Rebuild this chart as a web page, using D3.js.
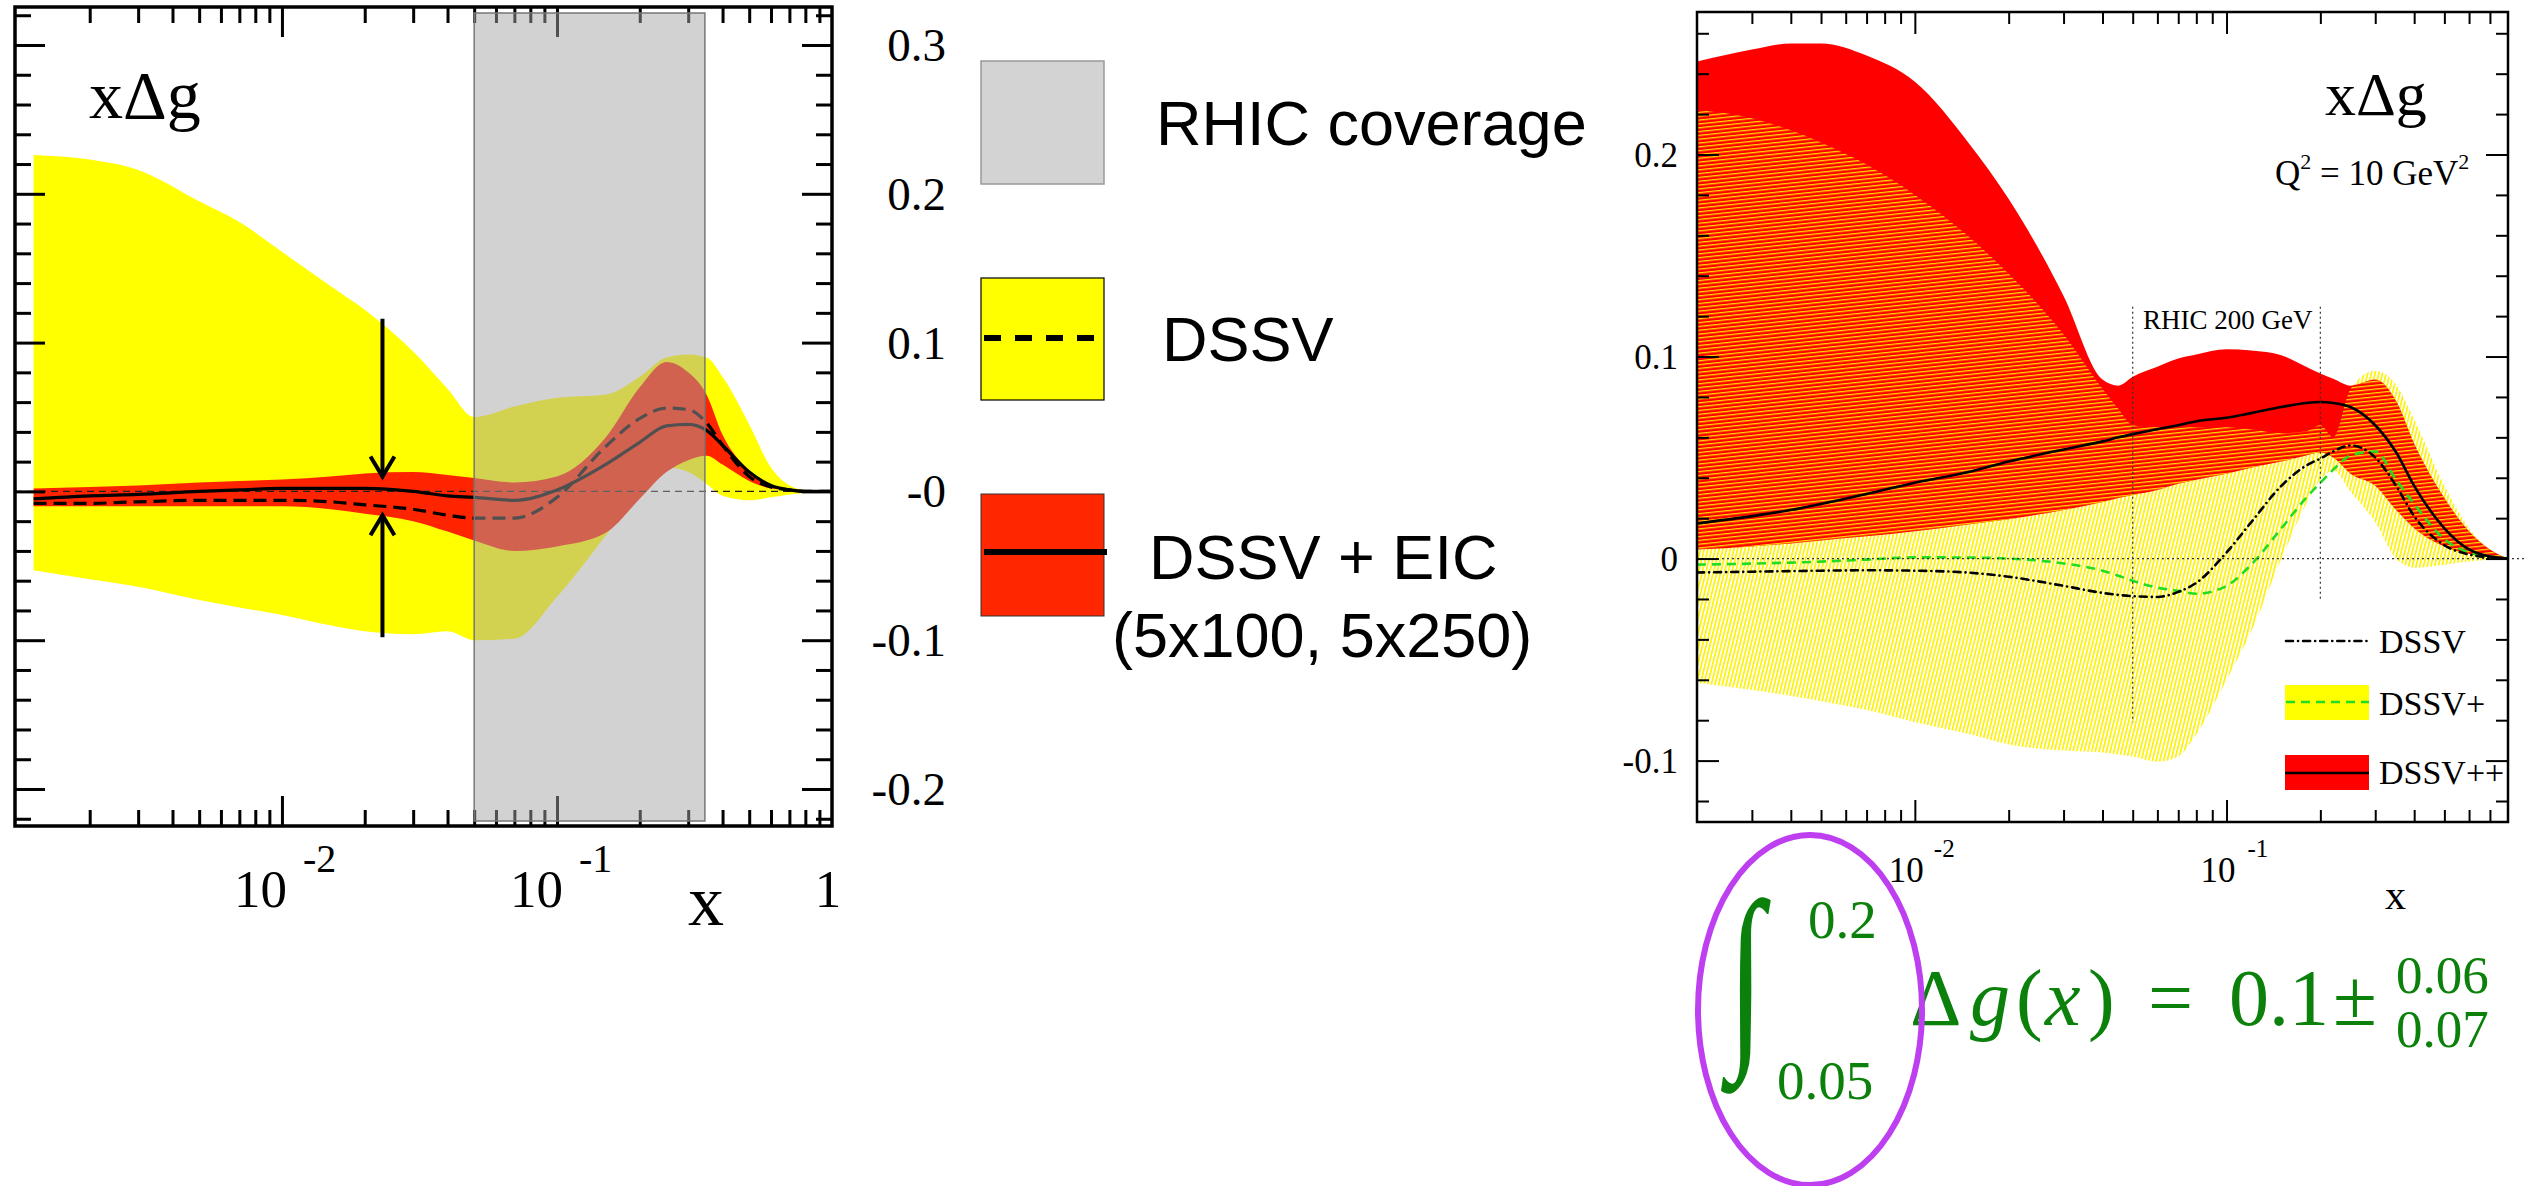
<!DOCTYPE html>
<html>
<head>
<meta charset="utf-8">
<script src="https://cdn.jsdelivr.net/npm/d3@7"></script>
<style>
  body { margin: 0; background: #fff; }
  svg { display: block; }
</style>
</head>
<body>
<svg id="fig" width="2531" height="1186"></svg>
<script>
// ---------------- left panel: xΔg, DSSV vs DSSV + EIC ----------------
const eicX   = [0.00125, 0.002, 0.003, 0.005, 0.007, 0.01, 0.015, 0.02, 0.03, 0.04, 0.05, 0.07, 0.1, 0.15, 0.2, 0.25, 0.3, 0.35, 0.4, 0.5, 0.6, 0.7, 0.8, 1.0];
const dssvHi = [0.226, 0.223, 0.216, 0.195, 0.181, 0.161, 0.138, 0.122, 0.094, 0.069, 0.050, 0.057, 0.063, 0.065, 0.077, 0.090, 0.092, 0.090, 0.077, 0.045, 0.016, 0.004, 0.001, 0];
const dssvLo = [-0.053, -0.059, -0.064, -0.073, -0.078, -0.083, -0.090, -0.094, -0.096, -0.094, -0.100, -0.099, -0.071, -0.030, 0.000, 0.016, 0.013, 0.005, -0.003, -0.006, -0.004, -0.002, -0.001, 0];
const eicHi  = [0.002, 0.003, 0.004, 0.006, 0.007, 0.008, 0.010, 0.012, 0.013, 0.011, 0.009, 0.006, 0.010, 0.036, 0.070, 0.087, 0.080, 0.065, 0.038, 0.014, 0.004, 0.001, 0, 0];
const eicLo  = [-0.010, -0.010, -0.010, -0.010, -0.010, -0.010, -0.012, -0.015, -0.020, -0.027, -0.033, -0.040, -0.037, -0.028, -0.005, 0.013, 0.021, 0.024, 0.018, 0.007, 0.002, 0.001, 0, 0];
const eicMid = [-0.005, -0.003, -0.002, 0.000, 0.001, 0.002, 0.002, 0.002, 0.000, -0.003, -0.004, -0.006, 0.001, 0.018, 0.033, 0.044, 0.045, 0.041, 0.031, 0.013, 0.004, 0.001, 0, 0];
const dssvMid = [-0.008, -0.008, -0.007, -0.006, -0.006, -0.006, -0.007, -0.009, -0.012, -0.016, -0.018, -0.018, -0.004, 0.030, 0.049, 0.056, 0.055, 0.046, 0.031, 0.010, 0.003, 0.001, 0, 0];

const rhicRange   = [0.05, 0.345];       // shaded RHIC coverage in x
const arrowX      = 0.0232;              // position of the uncertainty-reduction arrows
const arrowDown   = [0.116, 0.010];      // from, tip
const arrowUp     = [-0.098, -0.016];    // from, tip

const midTickVals   = [0.3, 0.2, 0.1, 0, -0.1, -0.2];
const midTickLabels = ["0.3", "0.2", "0.1", "-0", "-0.1", "-0.2"];

// ---------------- right panel: DSSV, DSSV+, DSSV++ at Q² = 10 GeV² ----------------
const rX    = [0.002, 0.003, 0.004, 0.005, 0.007, 0.01, 0.015, 0.02, 0.03, 0.04, 0.045, 0.05, 0.06, 0.07, 0.08, 0.1, 0.12, 0.15, 0.18, 0.2, 0.22, 0.25, 0.3, 0.35, 0.4, 0.5, 0.6, 0.7, 0.8];
const ppHi  = [0.246, 0.252, 0.255, 0.255, 0.249, 0.236, 0.205, 0.178, 0.130, 0.0886, 0.0856, 0.090, 0.095, 0.099, 0.101, 0.1036, 0.103, 0.1006, 0.095, 0.0916, 0.089, 0.0856, 0.0886, 0.078, 0.057, 0.030, 0.0135, 0.0045, 0];
const ppLo  = [0.0045, 0.006, 0.0075, 0.009, 0.011, 0.0135, 0.017, 0.0195, 0.024, 0.028, 0.030, 0.0315, 0.034, 0.037, 0.039, 0.042, 0.045, 0.048, 0.051, 0.0525, 0.050, 0.042, 0.036, 0.024, 0.015, 0.006, 0.0024, 0.001, 0];
const ppMid = [0.0174, 0.021, 0.024, 0.027, 0.032, 0.0375, 0.043, 0.048, 0.054, 0.058, 0.060, 0.0616, 0.064, 0.066, 0.068, 0.0697, 0.072, 0.075, 0.077, 0.0775, 0.077, 0.075, 0.066, 0.0526, 0.036, 0.015, 0.0045, 0.001, 0];
const pHi   = [0.222, 0.218, 0.212, 0.206, 0.195, 0.180, 0.159, 0.141, 0.111, 0.084, 0.074, 0.066, 0.065, 0.065, 0.065, 0.065, 0.064, 0.062, 0.063, 0.066, 0.060, 0.084, 0.093, 0.086, 0.069, 0.036, 0.015, 0.0045, 0];
const pLo   = [-0.0616, -0.065, -0.068, -0.0706, -0.075, -0.081, -0.087, -0.092, -0.095, -0.096, -0.097, -0.098, -0.1006, -0.098, -0.087, -0.060, -0.036, 0.000, 0.027, 0.039, 0.0435, 0.033, 0.018, 0.000, -0.0045, -0.003, -0.0015, -0.0006, 0];
const pMid  = [-0.003, -0.0025, -0.002, -0.0015, -0.0005, 0.0006, 0.0005, 0, -0.0024, -0.006, -0.0085, -0.011, -0.0144, -0.016, -0.0174, -0.0135, -0.003, 0.015, 0.030, 0.0375, 0.044, 0.051, 0.053, 0.039, 0.027, 0.0096, 0.003, 0.001, 0];
const dMid  = [-0.0069, -0.0065, -0.0062, -0.006, -0.0058, -0.006, -0.007, -0.009, -0.0135, -0.017, -0.018, -0.0186, -0.019, -0.0165, -0.012, 0.003, 0.018, 0.036, 0.046, 0.0495, 0.053, 0.056, 0.050, 0.036, 0.021, 0.0066, 0.002, 0.0006, 0];

const rhicLines = [0.05, 0.2];            // RHIC 200 GeV window
const rhicLineTop = 0.1246;
const rhicLineBottom = [-0.081, -0.021];

const rYTickVals   = [0.2, 0.1, 0, -0.1];
const rYTickLabels = ["0.2", "0.1", "0", "-0.1"];

// integral quoted under the right panel
const integralLimits = ["0.05", "0.2"];
const integralValue  = "0.1";
const integralErr    = ["0.06", "0.07"];

// ---------------------------------------------------------------------------
const svg = d3.select("#fig");
const SERIF = "'Liberation Serif', 'Times New Roman', serif";
const SANS  = "'Liberation Sans', Arial, sans-serif";
const defs = svg.append("defs");

function minorLog(lo, hi) {
  const out = [];
  for (let e = -4; e <= 0; e++) for (let m = 2; m <= 9; m++) {
    const v = m * Math.pow(10, e);
    if (v > lo * 1.001 && v < hi * 0.999) out.push(v);
  }
  return out;
}
function linTicks(a, b, step) {
  const out = [];
  for (let v = a; v <= b + 1e-9; v += step) out.push(+v.toFixed(4));
  return out;
}
const notTenth = v => Math.abs(Math.round(v * 10) - v * 10) > 1e-6;

// inward ticks on all four sides, drawn with d3 axes
function frameTicks(g, x, y, box, opt) {
  const add = (axisFn, scale, vals, len, tr) => {
    const a = axisFn(scale).tickValues(vals).tickSize(-len).tickSizeOuter(0).tickFormat("");
    const gg = g.append("g").attr("transform", tr).call(a);
    gg.select(".domain").remove();
    gg.selectAll(".tick text").remove();
    gg.selectAll(".tick line").attr("stroke", "#000").attr("stroke-width", opt.sw);
  };
  add(d3.axisBottom, x, opt.xMajor, opt.major, `translate(0,${box.bottom})`);
  add(d3.axisBottom, x, opt.xMinor, opt.minor, `translate(0,${box.bottom})`);
  add(d3.axisTop, x, opt.xMajor, opt.major, `translate(0,${box.top})`);
  add(d3.axisTop, x, opt.xMinor, opt.minor, `translate(0,${box.top})`);
  add(d3.axisLeft, y, opt.yMajor, opt.major, `translate(${box.left},0)`);
  add(d3.axisLeft, y, opt.yMinor, opt.minor, `translate(${box.left},0)`);
  add(d3.axisRight, y, opt.yMajor, opt.major, `translate(${box.right},0)`);
  add(d3.axisRight, y, opt.yMinor, opt.minor, `translate(${box.right},0)`);
}

// ============================ LEFT PANEL ============================
const LB = { left: 15, right: 832, top: 7, bottom: 826 };
const xL = d3.scaleLog().domain([0.00107, 1]).range([LB.left, LB.right]);
const yL = d3.scaleLinear().domain([0.3, -0.2]).range([45, 789]);

defs.append("clipPath").attr("id", "clipL").append("rect")
  .attr("x", LB.left).attr("y", LB.top).attr("width", LB.right - LB.left).attr("height", LB.bottom - LB.top);

const gL = svg.append("g");
const plotL = gL.append("g").attr("clip-path", "url(#clipL)");

const bandL = (hi, lo) => d3.area()
  .x((d, i) => xL(eicX[i])).y0((d, i) => yL(lo[i])).y1((d, i) => yL(hi[i]))
  .curve(d3.curveMonotoneX)(eicX);
const lineL = vals => d3.line()
  .x((d, i) => xL(eicX[i])).y((d, i) => yL(vals[i]))
  .curve(d3.curveMonotoneX)(eicX);

plotL.append("path").attr("d", bandL(dssvHi, dssvLo)).attr("fill", "#ffff00");
plotL.append("path").attr("d", bandL(eicHi, eicLo)).attr("fill", "#ff2400");

plotL.append("line")
  .attr("x1", LB.left).attr("x2", LB.right).attr("y1", yL(0)).attr("y2", yL(0))
  .attr("stroke", "#222").attr("stroke-width", 1.2).attr("stroke-dasharray", "7,5");

plotL.append("path").attr("d", lineL(dssvMid)).attr("fill", "none")
  .attr("stroke", "#000").attr("stroke-width", 3.2).attr("stroke-dasharray", "13,7");
plotL.append("path").attr("d", lineL(eicMid)).attr("fill", "none")
  .attr("stroke", "#000").attr("stroke-width", 3.2);

// arrows showing the reduced uncertainty
function arrow(g, x, y0, y1) {
  const dir = y1 > y0 ? 1 : -1;
  g.append("line").attr("x1", x).attr("x2", x).attr("y1", y0).attr("y2", y1)
    .attr("stroke", "#000").attr("stroke-width", 4);
  g.append("path")
    .attr("d", `M${x - 12},${y1 - dir * 20} L${x},${y1} L${x + 12},${y1 - dir * 20}`)
    .attr("fill", "none").attr("stroke", "#000").attr("stroke-width", 4);
}
arrow(gL, xL(arrowX), yL(arrowDown[0]), yL(arrowDown[1]));
arrow(gL, xL(arrowX), yL(arrowUp[0]), yL(arrowUp[1]));

frameTicks(gL, xL, yL, LB, {
  sw: 3, major: 30, minor: 16,
  xMajor: [0.01, 0.1], xMinor: minorLog(0.00107, 1),
  yMajor: midTickVals, yMinor: linTicks(-0.22, 0.32, 0.02).filter(notTenth)
});

// RHIC coverage overlay
gL.append("rect")
  .attr("x", xL(rhicRange[0])).attr("y", LB.top + 6)
  .attr("width", xL(rhicRange[1]) - xL(rhicRange[0])).attr("height", LB.bottom - LB.top - 11)
  .attr("fill", "#a4a4a4").attr("fill-opacity", 0.49)
  .attr("stroke", "#777").attr("stroke-width", 1.5);

gL.append("rect")
  .attr("x", LB.left).attr("y", LB.top).attr("width", LB.right - LB.left).attr("height", LB.bottom - LB.top)
  .attr("fill", "none").attr("stroke", "#000").attr("stroke-width", 3.5);

gL.append("text").attr("x", 89).attr("y", 118)
  .attr("font-family", SERIF).attr("font-size", 68).text("xΔg");

// x tick labels
function decadeLabel(g, xpos, base, exp, opt) {
  g.append("text").attr("x", xpos + opt.dx).attr("y", opt.base)
    .attr("text-anchor", "end").attr("font-family", SERIF).attr("font-size", opt.fs).text(base);
  g.append("text").attr("x", xpos + opt.sx).attr("y", opt.sup)
    .attr("font-family", SERIF).attr("font-size", opt.sfs).text(exp);
}
decadeLabel(gL, xL(0.01), "10", "-2", { dx: 5, sx: 21, base: 907, sup: 872, fs: 53, sfs: 40 });
decadeLabel(gL, xL(0.1), "10", "-1", { dx: 6, sx: 22, base: 907, sup: 872, fs: 53, sfs: 40 });
gL.append("text").attr("x", 828).attr("y", 907).attr("text-anchor", "middle")
  .attr("font-family", SERIF).attr("font-size", 53).text("1");
gL.append("text").attr("x", 688).attr("y", 925)
  .attr("font-family", SERIF).attr("font-size", 72).text("x");

// y labels sitting to the right of the panel
svg.append("g").selectAll("text").data(midTickVals).join("text")
  .attr("x", 946).attr("y", d => yL(d) + 16).attr("text-anchor", "end")
  .attr("font-family", SERIF).attr("font-size", 47)
  .text((d, i) => midTickLabels[i]);

// ============================ MIDDLE LEGEND ============================
const gM = svg.append("g");
gM.append("rect").attr("x", 981).attr("y", 61).attr("width", 123).attr("height", 123)
  .attr("fill", "#d3d3d3").attr("stroke", "#999").attr("stroke-width", 1.5);
gM.append("rect").attr("x", 981).attr("y", 278).attr("width", 123).attr("height", 122)
  .attr("fill", "#ffff00").attr("stroke", "#000").attr("stroke-width", 1.2);
gM.append("line").attr("x1", 984).attr("x2", 1100).attr("y1", 338).attr("y2", 338)
  .attr("stroke", "#000").attr("stroke-width", 6).attr("stroke-dasharray", "17,14");
gM.append("rect").attr("x", 981).attr("y", 494).attr("width", 123).attr("height", 122)
  .attr("fill", "#ff2600").attr("stroke", "#333").attr("stroke-width", 1);
gM.append("line").attr("x1", 984).attr("x2", 1107).attr("y1", 552).attr("y2", 552)
  .attr("stroke", "#000").attr("stroke-width", 6);

const legTxt = (x, y, t) => gM.append("text").attr("x", x).attr("y", y)
  .attr("font-family", SANS).attr("font-size", 63).text(t);
legTxt(1156, 145, "RHIC coverage");
legTxt(1162, 361, "DSSV");
legTxt(1149, 579, "DSSV + EIC");
legTxt(1112, 657, "(5x100, 5x250)");

// ============================ RIGHT PANEL ============================
const RB = { left: 1697, right: 2508, top: 12, bottom: 822 };
const xR = d3.scaleLog().domain([0.002, 0.8]).range([RB.left, RB.right]);
const yR = d3.scaleLinear().domain([0.2, -0.1]).range([154.5, 760.6]);

defs.append("clipPath").attr("id", "clipR").append("rect")
  .attr("x", RB.left).attr("y", RB.top).attr("width", RB.right - RB.left).attr("height", RB.bottom - RB.top);

// fine yellow hatching of the DSSV+ band: steep strokes on white, flat strokes on red
const hatchV = defs.append("pattern").attr("id", "hatchV")
  .attr("patternUnits", "userSpaceOnUse").attr("width", 3.6).attr("height", 8)
  .attr("patternTransform", "rotate(14)");
hatchV.append("rect").attr("x", 0).attr("y", 0).attr("width", 1.7).attr("height", 8).attr("fill", "#fff200");
const hatchH = defs.append("pattern").attr("id", "hatchH")
  .attr("patternUnits", "userSpaceOnUse").attr("width", 8).attr("height", 3.8)
  .attr("patternTransform", "rotate(-6)");
hatchH.append("rect").attr("x", 0).attr("y", 0).attr("width", 8).attr("height", 1.3).attr("fill", "#ffdd00");

const gR = svg.append("g");
const plotR = gR.append("g").attr("clip-path", "url(#clipR)");

const bandR = (hi, lo) => d3.area()
  .x((d, i) => xR(rX[i])).y0((d, i) => yR(lo[i])).y1((d, i) => yR(hi[i]))
  .curve(d3.curveMonotoneX)(rX);
const lineR = vals => d3.line()
  .x((d, i) => xR(rX[i])).y((d, i) => yR(vals[i]))
  .curve(d3.curveMonotoneX)(rX);

defs.append("clipPath").attr("id", "clipPlus").append("path").attr("d", bandR(pHi, pLo));

plotR.append("path").attr("d", bandR(pHi, pLo)).attr("fill", "url(#hatchV)");
plotR.append("path").attr("d", bandR(ppHi, ppLo)).attr("fill", "#ff0000");
plotR.append("g").attr("clip-path", "url(#clipPlus)")
  .append("path").attr("d", bandR(ppHi, ppLo)).attr("fill", "url(#hatchH)");

// reference lines
gR.append("line").attr("x1", RB.left).attr("x2", 2525).attr("y1", yR(0)).attr("y2", yR(0))
  .attr("stroke", "#333").attr("stroke-width", 1.2).attr("stroke-dasharray", "2,3");
rhicLines.forEach((v, i) => {
  gR.append("line").attr("x1", xR(v)).attr("x2", xR(v))
    .attr("y1", yR(rhicLineTop)).attr("y2", yR(rhicLineBottom[i]))
    .attr("stroke", "#333").attr("stroke-width", 1.2).attr("stroke-dasharray", "2,3");
});
gR.append("text").attr("x", 2143).attr("y", 329)
  .attr("font-family", SERIF).attr("font-size", 27).text("RHIC 200 GeV");

plotR.append("path").attr("d", lineR(pMid)).attr("fill", "none")
  .attr("stroke", "#22dd22").attr("stroke-width", 2.6).attr("stroke-dasharray", "9,6");
plotR.append("path").attr("d", lineR(dMid)).attr("fill", "none")
  .attr("stroke", "#000").attr("stroke-width", 2.6).attr("stroke-linecap", "round")
  .attr("stroke-dasharray", "7,5,0.1,5");
plotR.append("path").attr("d", lineR(ppMid)).attr("fill", "none")
  .attr("stroke", "#000").attr("stroke-width", 2.6);

// legend
gR.append("line").attr("x1", 2286).attr("x2", 2369).attr("y1", 641).attr("y2", 641)
  .attr("stroke", "#000").attr("stroke-width", 2.6).attr("stroke-linecap", "round")
  .attr("stroke-dasharray", "7,5,0.1,5");
gR.append("rect").attr("x", 2285).attr("y", 685).attr("width", 84).attr("height", 35).attr("fill", "#ffff00");
gR.append("line").attr("x1", 2286).attr("x2", 2369).attr("y1", 702).attr("y2", 702)
  .attr("stroke", "#22dd22").attr("stroke-width", 2.6).attr("stroke-dasharray", "9,6");
gR.append("rect").attr("x", 2285).attr("y", 755).attr("width", 84).attr("height", 35).attr("fill", "#ff0000");
gR.append("line").attr("x1", 2285).attr("x2", 2369).attr("y1", 773).attr("y2", 773)
  .attr("stroke", "#000").attr("stroke-width", 2.6);
[["DSSV", 653], ["DSSV+", 715], ["DSSV++", 784]].forEach(([t, y]) =>
  gR.append("text").attr("x", 2379).attr("y", y).attr("font-family", SERIF).attr("font-size", 34).text(t));

frameTicks(gR, xR, yR, RB, {
  sw: 2, major: 22, minor: 12,
  xMajor: [0.01, 0.1], xMinor: minorLog(0.002, 0.8),
  yMajor: rYTickVals, yMinor: linTicks(-0.12, 0.26, 0.02).filter(notTenth)
});
gR.append("rect")
  .attr("x", RB.left).attr("y", RB.top).attr("width", RB.right - RB.left).attr("height", RB.bottom - RB.top)
  .attr("fill", "none").attr("stroke", "#000").attr("stroke-width", 2.5);

gR.append("text").attr("x", 2325).attr("y", 115)
  .attr("font-family", SERIF).attr("font-size", 62).text("xΔg");
const q = gR.append("text").attr("x", 2275).attr("y", 185)
  .attr("font-family", SERIF).attr("font-size", 35);
q.append("tspan").text("Q");
q.append("tspan").attr("font-size", 22).attr("dy", -16).text("2");
q.append("tspan").attr("dy", 16).text(" = 10 GeV");
q.append("tspan").attr("font-size", 22).attr("dy", -16).text("2");

gR.selectAll(".ylab").data(rYTickVals).join("text")
  .attr("x", 1678).attr("y", d => yR(d) + 12).attr("text-anchor", "end")
  .attr("font-family", SERIF).attr("font-size", 35)
  .text((d, i) => rYTickLabels[i]);

decadeLabel(gR, xR(0.01), "10", "-2", { dx: 9, sx: 19, base: 882, sup: 857, fs: 35, sfs: 25 });
decadeLabel(gR, xR(0.1), "10", "-1", { dx: 9, sx: 21, base: 882, sup: 857, fs: 35, sfs: 25 });
gR.append("text").attr("x", 2385).attr("y", 909)
  .attr("font-family", SERIF).attr("font-size", 42).text("x");

// ============================ INTEGRAL ============================
const gI = svg.append("g").attr("fill", "#0b800b");
gI.append("text").attr("transform", "translate(1728,1040) scale(1.05,1.6)")
  .attr("font-family", SERIF).attr("font-size", 125).text("∫");
gI.append("text").attr("x", 1808).attr("y", 938)
  .attr("font-family", SERIF).attr("font-size", 55).text(integralLimits[1]);
gI.append("text").attr("x", 1777).attr("y", 1099)
  .attr("font-family", SERIF).attr("font-size", 55).text(integralLimits[0]);

const mT = (x, t, italic) => gI.append("text").attr("x", x).attr("y", 1025)
  .attr("font-family", SERIF).attr("font-size", 80)
  .attr("font-style", italic ? "italic" : "normal").text(t);
mT(1910, "Δ");
mT(1970, "g", true);
mT(2016, "(");
mT(2045, "x", true);
mT(2088, ")");
mT(2148, "=");
mT(2229, integralValue);
mT(2333, "±");
gI.append("text").attr("x", 2396).attr("y", 993)
  .attr("font-family", SERIF).attr("font-size", 53).text(integralErr[0]);
gI.append("text").attr("x", 2396).attr("y", 1047)
  .attr("font-family", SERIF).attr("font-size", 53).text(integralErr[1]);

svg.append("ellipse").attr("cx", 1810).attr("cy", 1010).attr("rx", 112).attr("ry", 175)
  .attr("fill", "none").attr("stroke", "#bd3ff0").attr("stroke-width", 6);
</script>
</body>
</html>
